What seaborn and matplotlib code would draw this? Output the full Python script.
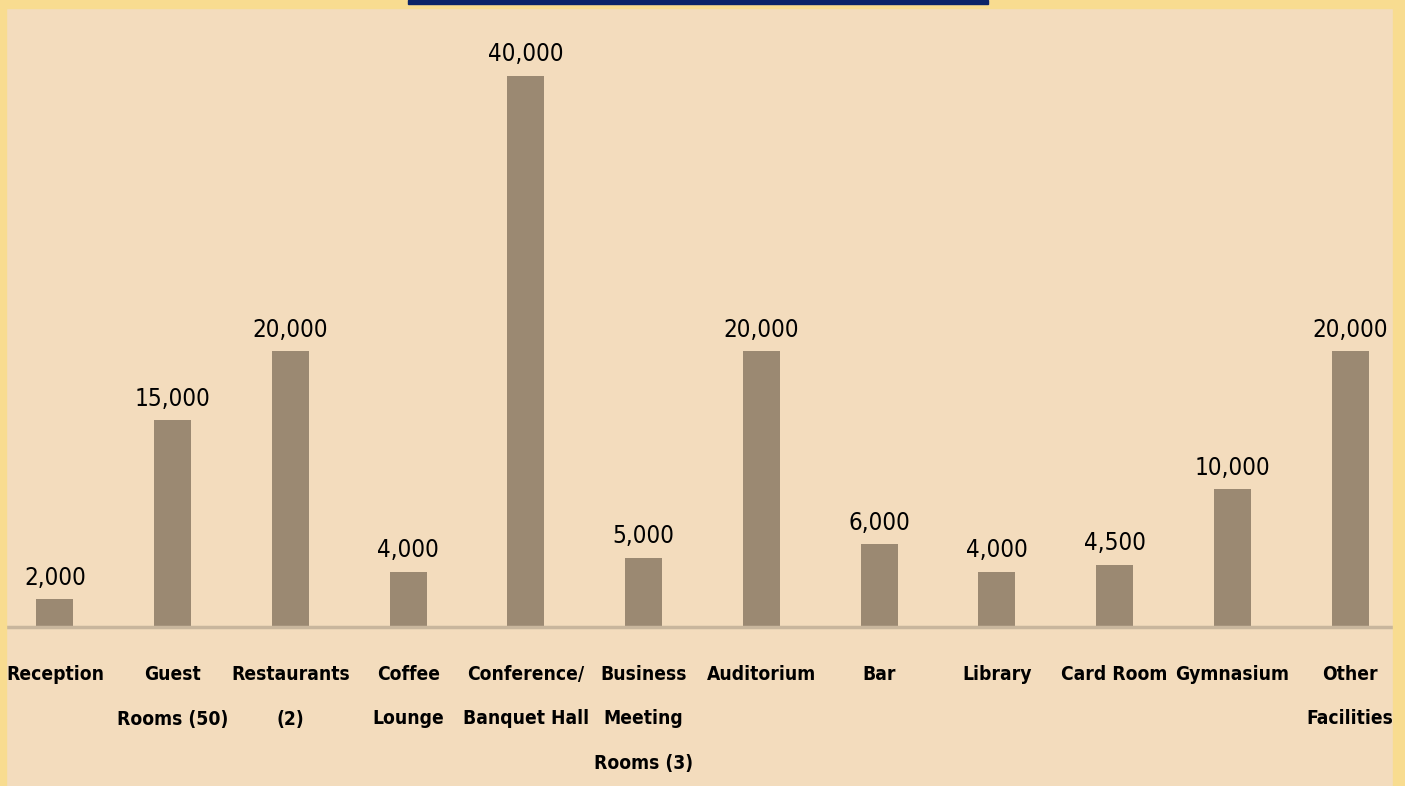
import matplotlib
matplotlib.use("Agg")
import matplotlib.pyplot as plt
from matplotlib.patches import Rectangle
from matplotlib import font_manager as fm
import seaborn as sns
import os

categories = ["Reception", "Guest Rooms (50)", "Restaurants (2)", "Coffee Lounge",
              "Conference/Banquet Hall", "Business Meeting Rooms (3)", "Auditorium",
              "Bar", "Library", "Card Room", "Gymnasium", "Other Facilities"]
tick_labels = ["Reception", "Guest\nRooms (50)", "Restaurants\n(2)", "Coffee\nLounge",
               "Conference/\nBanquet Hall", "Business\nMeeting\nRooms (3)", "Auditorium",
               "Bar", "Library", "Card Room", "Gymnasium", "Other\nFacilities"]
values = [2000, 15000, 20000, 4000, 40000, 5000, 20000, 6000, 4000, 4500, 10000, 20000]

W, H = 1405, 786
PEACH = "#F3DCBD"
YELLOW = "#F8DC90"
BAR = "#9B8972"

sns.set_theme(style="white")
plt.rcParams["font.family"] = ["Liberation Sans Narrow", "DejaVu Sans"]


def pick_font(candidates, fallback_family, weight):
    files = {os.path.basename(f.fname).lower(): f.fname for f in fm.fontManager.ttflist}
    for c in candidates:
        if c.lower() in files:
            return fm.FontProperties(fname=files[c.lower()])
    for d in ["/usr/share/fonts", "/usr/local/share/fonts"]:
        for root, _, fs in os.walk(d):
            for f in fs:
                for c in candidates:
                    if f.lower() == c.lower():
                        return fm.FontProperties(fname=os.path.join(root, f))
    return fm.FontProperties(family=fallback_family, weight=weight)


fp_bold = pick_font(["LiberationSansNarrow-Bold.ttf", "DejaVuSansCondensed-Bold.ttf"],
                    "Liberation Sans", "bold")
fp_reg = pick_font(["LiberationSansNarrow-Regular.ttf", "DejaVuSansCondensed.ttf"],
                   "Liberation Sans", "normal")

fig = plt.figure(figsize=(W / 100, H / 100), dpi=100)
fig.patch.set_facecolor(PEACH)
renderer = fig.canvas.get_renderer()


def size_for(text, fp, target_px):
    p = fp.copy()
    p.set_size(20)
    w, h, d = renderer.get_text_width_height_descent(text, p, ismath=False)
    return 20 * target_px / w


lab_size = size_for("Restaurants", fp_bold, 118)
val_size = size_for("20,000", fp_reg, 76)
fp_bold = fp_bold.copy(); fp_bold.set_size(lab_size)
fp_reg = fp_reg.copy(); fp_reg.set_size(val_size)
_, lh, ld = renderer.get_text_width_height_descent("lp", fp_bold, ismath=False)
line_sp = (45 - ld) / (lh - ld)

# border strips
fig.patches.append(Rectangle((0, 0), 6 / W, 1, transform=fig.transFigure, color=YELLOW, zorder=0))
fig.patches.append(Rectangle((1393 / W, 0), 12 / W, 1, transform=fig.transFigure, color=YELLOW, zorder=0))
fig.patches.append(Rectangle((0, 1 - 8 / H), 1, 8 / H, transform=fig.transFigure, color=YELLOW, zorder=0))
fig.patches.append(Rectangle((408 / W, 1 - 3.5 / H), 580 / W, 3.5 / H, transform=fig.transFigure,
                             color="#0B2468", zorder=1))

ax = fig.add_axes([6 / W, (H - 627) / H, (1393 - 6) / W, (627 - 8) / H])
ax.set_facecolor(PEACH)

sns.barplot(x=categories, y=values, color=BAR, saturation=1, width=0.314, ax=ax,
            linewidth=0, edgecolor="none")

ax.set_xlim(-0.416, 11.365)
ax.set_ylim(0, 44936)

for c in ax.containers:
    labels = [f"{v:,.0f}" for v in values]
    ax.bar_label(c, labels=labels, padding=7, fontproperties=fp_reg, color="black")

ax.set_xticks(range(len(categories)))
ax.set_xticklabels(tick_labels, fontproperties=fp_bold, color="black",
                   linespacing=line_sp, va="top")
ax.tick_params(axis="x", length=0, pad=27)
ax.set_yticks([])
ax.set_xlabel("")
ax.set_ylabel("")
for s in ["top", "left", "right"]:
    ax.spines[s].set_visible(False)
ax.spines["bottom"].set_color("#C8B69D")
ax.spines["bottom"].set_linewidth(2.5)

fig.savefig("out.png", dpi=100, facecolor=fig.get_facecolor())
